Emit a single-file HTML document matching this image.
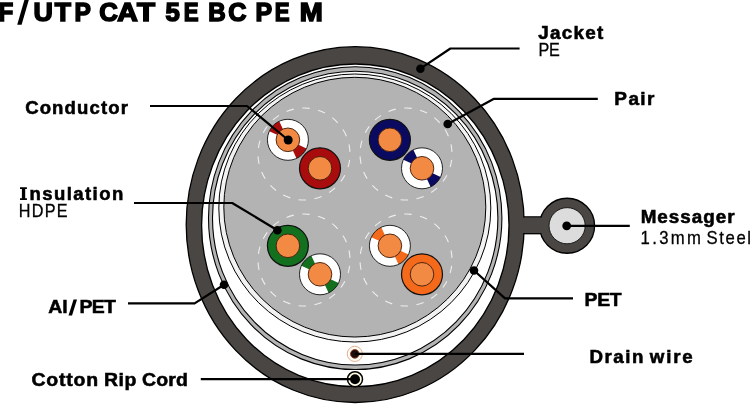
<!DOCTYPE html>
<html><head><meta charset="utf-8">
<style>
html,body{margin:0;padding:0;background:#fff;width:750px;height:404px;overflow:hidden}
svg{display:block;will-change:transform}
text{font-family:"Liberation Sans",sans-serif}
</style></head><body>
<svg width="750" height="404" viewBox="0 0 750 404">
<text transform="translate(-1.38,20.7) scale(0.9121,1)" x="0" y="0" font-size="26.45" font-weight="bold" stroke="#000" stroke-width="1.6">F</text>
<polygon points="17.2,24.8 21.6,24.8 28.8,0 24.4,0" fill="#000"/>
<text transform="translate(33.40,20.7) scale(1.0114,1)" x="0" y="0" font-size="26.45" font-weight="bold" stroke="#000" stroke-width="1.6">U</text>
<text transform="translate(54.80,20.7) scale(1.0013,1)" x="0" y="0" font-size="26.45" font-weight="bold" stroke="#000" stroke-width="1.6">T</text>
<text transform="translate(74.40,20.7) scale(0.9293,1)" x="0" y="0" font-size="26.45" font-weight="bold" stroke="#000" stroke-width="1.6">P</text>
<text transform="translate(99.32,20.7) scale(0.9738,1)" x="0" y="0" font-size="26.45" font-weight="bold" stroke="#000" stroke-width="1.6">C</text>
<text transform="translate(117.35,20.7) scale(1.0751,1)" x="0" y="0" font-size="26.45" font-weight="bold" stroke="#000" stroke-width="1.6">A</text>
<text transform="translate(136.96,20.7) scale(1.1177,1)" x="0" y="0" font-size="26.45" font-weight="bold" stroke="#000" stroke-width="1.6">T</text>
<text transform="translate(165.39,20.7) scale(0.9755,1)" x="0" y="0" font-size="26.45" font-weight="bold" stroke="#000" stroke-width="1.6">5</text>
<text transform="translate(183.79,20.7) scale(0.8393,1)" x="0" y="0" font-size="26.45" font-weight="bold" stroke="#000" stroke-width="1.6">E</text>
<text transform="translate(208.31,20.7) scale(0.9135,1)" x="0" y="0" font-size="26.45" font-weight="bold" stroke="#000" stroke-width="1.6">B</text>
<text transform="translate(228.13,20.7) scale(0.9526,1)" x="0" y="0" font-size="26.45" font-weight="bold" stroke="#000" stroke-width="1.6">C</text>
<text transform="translate(255.49,20.7) scale(0.9414,1)" x="0" y="0" font-size="26.45" font-weight="bold" stroke="#000" stroke-width="1.6">P</text>
<text transform="translate(274.79,20.7) scale(0.8393,1)" x="0" y="0" font-size="26.45" font-weight="bold" stroke="#000" stroke-width="1.6">E</text>
<text transform="translate(299.79,20.7) scale(1.0449,1)" x="0" y="0" font-size="26.45" font-weight="bold" stroke="#000" stroke-width="1.6">M</text>
<!-- messenger + bridge outline -->
<g stroke="#000" stroke-width="1.3" fill="#4a4644">
  <rect x="500" y="216.9" width="50" height="16.8"/>
  <circle cx="567.1" cy="225.75" r="27.5"/>
</g>
<!-- jacket -->
<ellipse cx="355.2" cy="224.6" rx="169" ry="177.9" fill="#4a4644" stroke="#000" stroke-width="1.3"/>
<rect x="505" y="217.6" width="48" height="15.4" fill="#4a4644"/>
<circle cx="567.1" cy="225.75" r="18.1" fill="#dcdcdc" stroke="#1a1a1a" stroke-width="1"/>
<ellipse cx="355.3" cy="225.35" rx="153.7" ry="161.35" fill="#fff" stroke="#000" stroke-width="1.3"/>

<!-- Al/PET -->
<ellipse cx="355.2" cy="218.1" rx="146.7" ry="151.4" fill="#b4b4b4" stroke="#000" stroke-width="1.1"/>
<ellipse cx="355.2" cy="218.1" rx="142.7" ry="146.9" fill="#fff" stroke="#000" stroke-width="1.1"/>
<!-- PET -->
<ellipse cx="354.8" cy="208" rx="136" ry="134" fill="#f2f2f2" stroke="#000" stroke-width="1.0"/>
<ellipse cx="354.8" cy="207.15" rx="131" ry="129.85" fill="#b3b3b3" stroke="#000" stroke-width="1.0"/>

<g fill="none" stroke="#eeeeee" stroke-width="1.1" stroke-dasharray="7.5 8.557" stroke-dashoffset="-5.9">
<circle cx="304" cy="154" r="46"/>
<circle cx="406" cy="154" r="46"/>
<circle cx="304" cy="260" r="46"/>
<circle cx="406" cy="260" r="46"/>
</g>
<circle cx="320.0" cy="168.3" r="20.5" fill="#a80c0c" stroke="#111" stroke-width="1.2"/>
<circle cx="320.0" cy="168.3" r="11.8" fill="#f28a44" stroke="#3a1a0a" stroke-width="0.9"/>
<circle cx="287.9" cy="139.8" r="20.5" fill="#fff"/>
<path fill="#a80c0c" d="M287.90 139.80 L269.32 131.14 A20.5 20.5 0 0 1 279.24 121.22 Z M287.90 139.80 L306.48 148.46 A20.5 20.5 0 0 1 296.56 158.38 Z"/>
<circle cx="287.9" cy="139.8" r="20.5" fill="none" stroke="#111" stroke-width="0.9"/>
<circle cx="287.9" cy="139.8" r="11.8" fill="#f28a44" stroke="#3a1a0a" stroke-width="0.9"/>
<circle cx="389.9" cy="139.8" r="20.5" fill="#0a0a60" stroke="#111" stroke-width="1.2"/>
<circle cx="389.9" cy="139.8" r="11.8" fill="#f28a44" stroke="#3a1a0a" stroke-width="0.9"/>
<circle cx="422.0" cy="168.3" r="20.5" fill="#fff"/>
<path fill="#0a0a60" d="M422.00 168.30 L403.42 159.64 A20.5 20.5 0 0 1 413.34 149.72 Z M422.00 168.30 L440.58 176.96 A20.5 20.5 0 0 1 430.66 186.88 Z"/>
<circle cx="422.0" cy="168.3" r="20.5" fill="none" stroke="#111" stroke-width="0.9"/>
<circle cx="422.0" cy="168.3" r="11.8" fill="#f28a44" stroke="#3a1a0a" stroke-width="0.9"/>
<circle cx="287.9" cy="245.8" r="20.5" fill="#12701f" stroke="#111" stroke-width="1.2"/>
<circle cx="287.9" cy="245.8" r="11.8" fill="#f28a44" stroke="#3a1a0a" stroke-width="0.9"/>
<circle cx="320.0" cy="274.3" r="20.5" fill="#fff"/>
<path fill="#12701f" d="M320.00 274.30 L301.42 265.64 A20.5 20.5 0 0 1 311.34 255.72 Z M320.00 274.30 L338.58 282.96 A20.5 20.5 0 0 1 328.66 292.88 Z"/>
<circle cx="320.0" cy="274.3" r="20.5" fill="none" stroke="#111" stroke-width="0.9"/>
<circle cx="320.0" cy="274.3" r="11.8" fill="#f28a44" stroke="#3a1a0a" stroke-width="0.9"/>
<circle cx="422.0" cy="274.3" r="20.5" fill="#f46a1a" stroke="#111" stroke-width="1.2"/>
<circle cx="422.0" cy="274.3" r="11.8" fill="#f28a44" stroke="#3a1a0a" stroke-width="0.9"/>
<circle cx="389.9" cy="245.8" r="20.5" fill="#fff"/>
<path fill="#f46a1a" d="M389.90 245.80 L371.32 237.14 A20.5 20.5 0 0 1 381.24 227.22 Z M389.90 245.80 L408.48 254.46 A20.5 20.5 0 0 1 398.56 264.38 Z"/>
<circle cx="389.9" cy="245.8" r="20.5" fill="none" stroke="#111" stroke-width="0.9"/>
<circle cx="389.9" cy="245.8" r="11.8" fill="#f28a44" stroke="#3a1a0a" stroke-width="0.9"/>

<!-- drain wire -->
<circle cx="354.8" cy="353.9" r="7.6" fill="#fffaf2" stroke="#d8a07a" stroke-width="0.8"/>
<circle cx="354.8" cy="353.9" r="4.3" fill="#1e0a08" stroke="#8a3a20" stroke-width="0.9"/>
<!-- rip cord -->
<circle cx="355" cy="379.2" r="7.5" fill="#fffbe6" stroke="#000" stroke-width="1.5"/>
<circle cx="355" cy="379.2" r="5" fill="#000"/>

<!-- leader lines -->
<g fill="none" stroke="#000" stroke-width="2.2" stroke-linejoin="round">
  <polyline points="420.4,68.7 450.4,48.5 519.6,48.5"/>
  <polyline points="447.7,124 494,98.8 597.8,98.8"/>
  <polyline points="150,106 247,106 288.2,140"/>
  <polyline points="134,203 232.2,203 277.4,230.2"/>
  <polyline points="128,303.4 194.6,303.4 224,284.7"/>
  <polyline points="200.8,379.2 355,379.2"/>
  <polyline points="355,353.9 524,353.9"/>
  <polyline points="474,270.5 505,298.4 573,298.4"/>
  <polyline points="566.7,225.9 629.8,225.9"/>
</g>
<g fill="#000">
  <circle cx="420.4" cy="68.7" r="4.3"/>
  <circle cx="447.7" cy="124" r="4.3"/>
  <circle cx="288.2" cy="140" r="4.5"/>
  <circle cx="277.4" cy="230.2" r="4.3"/>
  <circle cx="224" cy="284.7" r="4.3"/>
  <circle cx="474" cy="270.5" r="4.3"/>
  <circle cx="566.7" cy="225.8" r="4.4"/>
</g>

<text transform="translate(538.31,39.4) scale(1.0600,1)" x="0.00 11.08 22.17 33.25 44.34 55.42" y="0" font-size="17.81" font-weight="bold" stroke="#000" stroke-width="0.55">Jacket</text>
<text transform="translate(538.61,56.1) scale(0.9200,1)" x="0.00 11.36" y="0" font-size="17.59" font-weight="normal" stroke="#000" stroke-width="0.3">PE</text>
<text transform="translate(614.32,104.6) scale(1.0600,1)" x="0.00 13.27 24.54 30.82" y="0" font-size="17.95" font-weight="bold" stroke="#000" stroke-width="0.55">Pair</text>
<text transform="translate(25.13,113.6) scale(1.0600,1)" x="0.00 13.71 25.47 37.24 49.00 60.76 71.56 78.46 90.22" y="0" font-size="17.51" font-weight="bold" stroke="#000" stroke-width="0.55">Conductor</text>
<text transform="translate(29.47,200) scale(1.0600,1)" x="0.00 12.03 23.10 35.13 41.33 52.40 59.56 65.76 77.78" y="0" font-size="17.51" font-weight="bold" stroke="#000" stroke-width="0.55">nsulation</text>
<text transform="translate(18.81,217) scale(0.9200,1)" x="0.00 14.08 28.15 41.25" y="0" font-size="17.59" font-weight="normal" stroke="#000" stroke-width="0.3">HDPE</text>
<text transform="translate(640.63,222.8) scale(1.0600,1)" x="0.00 15.76 26.59 37.42 48.25 59.08 70.89 81.72" y="0" font-size="17.81" font-weight="bold" stroke="#000" stroke-width="0.55">Messager</text>
<text transform="translate(640.56,244) scale(0.9200,1)" x="0.00 12.64 20.21 32.85 50.52" y="0" font-size="18.17" font-weight="normal" stroke="#000" stroke-width="0.3">1.3mm</text>
<text transform="translate(706.58,244) scale(0.9200,1)" x="0.00 13.83 20.59 32.41 44.23" y="0" font-size="18.17" font-weight="normal" stroke="#000" stroke-width="0.3">Steel</text>
<text transform="translate(48.31,313) scale(1.0600,1)" x="0.00 13.08" y="0" font-size="18.39" font-weight="bold" stroke="#000" stroke-width="0.55">Al</text>
<text transform="translate(79.49,313) scale(1.0600,1)" x="0.00 11.57 23.14" y="0" font-size="18.39" font-weight="bold" stroke="#000" stroke-width="0.55">PET</text>
<text transform="translate(584.60,306) scale(1.0600,1)" x="0.00 11.89 23.78" y="0" font-size="18.24" font-weight="bold" stroke="#000" stroke-width="0.55">PET</text>
<text transform="translate(589.44,362.9) scale(1.0600,1)" x="0.00 14.19 22.49 33.75 40.09" y="0" font-size="17.66" font-weight="bold" stroke="#000" stroke-width="0.55">Drain</text>
<text transform="translate(649.75,362.9) scale(1.0600,1)" x="0.00 15.48 22.13 30.75" y="0" font-size="17.66" font-weight="bold" stroke="#000" stroke-width="0.55">wire</text>
<text transform="translate(31.49,386.4) scale(1.0600,1)" x="0.00 14.02 26.00 32.87 39.74 51.72" y="0" font-size="18.39" font-weight="bold" stroke="#000" stroke-width="0.55">Cotton</text>
<text transform="translate(103.99,386.4) scale(1.0600,1)" x="0.00 13.71 19.26" y="0" font-size="18.39" font-weight="bold" stroke="#000" stroke-width="0.55">Rip</text>
<text transform="translate(141.89,386.4) scale(1.0600,1)" x="0.00 13.45 24.84 32.17" y="0" font-size="18.39" font-weight="bold" stroke="#000" stroke-width="0.55">Cord</text>
<polygon points="68.5,315.5 72,315.5 77,299.5 73.5,299.5" fill="#000"/>
<path d="M20 187.2H26.9V189.1H25.2V198.2H26.9V200.1H20V198.2H21.9V189.1H20Z" fill="#000"/>
</svg>
</body></html>
